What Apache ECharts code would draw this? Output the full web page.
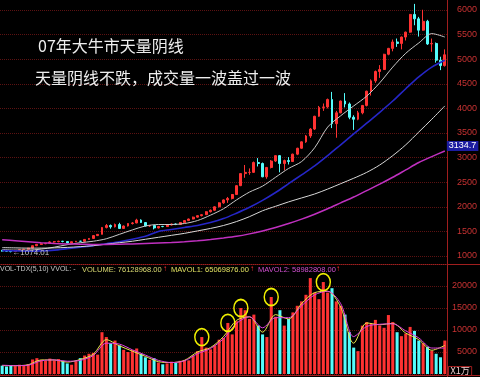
<!DOCTYPE html>
<html>
<head>
<meta charset="utf-8">
<script src="https://cdn.jsdelivr.net/npm/echarts@6/dist/echarts.min.js"></script>
<style>
html, body { margin: 0; padding: 0; background: #000; }
#main { width: 480px; height: 377px; }
</style>
</head>
<body>
<div id="main"></div>
<script>
// weekly bars, Shanghai composite, late 2005 - end 2007
var weeks = [
  '2005-11-18','2005-11-25','2005-12-02','2005-12-09','2005-12-16','2005-12-23','2005-12-30',
  '2006-01-06','2006-01-13','2006-01-20','2006-01-27','2006-02-10','2006-02-17','2006-02-24',
  '2006-03-03','2006-03-10','2006-03-17','2006-03-24','2006-03-31','2006-04-07','2006-04-14',
  '2006-04-21','2006-04-28','2006-05-12','2006-05-19','2006-05-26','2006-06-02','2006-06-09',
  '2006-06-16','2006-06-23','2006-06-30','2006-07-07','2006-07-14','2006-07-21','2006-07-28',
  '2006-08-04','2006-08-11','2006-08-18','2006-08-25','2006-09-01','2006-09-08','2006-09-15',
  '2006-09-22','2006-09-29','2006-10-13','2006-10-20','2006-10-27','2006-11-03','2006-11-10',
  '2006-11-17','2006-11-24','2006-12-01','2006-12-08','2006-12-15','2006-12-22','2006-12-29',
  '2007-01-05','2007-01-12','2007-01-19','2007-01-26','2007-02-02','2007-02-09','2007-02-16',
  '2007-02-23','2007-03-02','2007-03-09','2007-03-16','2007-03-23','2007-03-30','2007-04-06',
  '2007-04-13','2007-04-20','2007-04-27','2007-05-11','2007-05-18','2007-05-25','2007-06-01',
  '2007-06-08','2007-06-15','2007-06-22','2007-06-29','2007-07-06','2007-07-13','2007-07-20',
  '2007-07-27','2007-08-03','2007-08-10','2007-08-17','2007-08-24','2007-08-31','2007-09-07',
  '2007-09-14','2007-09-21','2007-09-28','2007-10-12','2007-10-19','2007-10-26','2007-11-02',
  '2007-11-09','2007-11-16','2007-11-23','2007-11-30','2007-12-07'
];
var open = [
  1110,1100,1098,1090,1115,1130,1138, 1161,1209,1236,1249,1258,1286,1290,
  1300,1295,1265,1290,1300,1299,1337, 1357,1415,1440,1580,1620,1593,1640,
  1560,1610,1660,1672,1730,1680,1610, 1620,1570,1600,1598,1630,1650,1640,
  1680,1720,1752,1790,1820,1840,1900, 1930,2000,2080,2140,2170,2250,2430,
  2675,2700,2700,2900,2880,2610,2800, 2930,3040,2880,2940,2920,3070,3190,
  3320,3440,3580,3840,4020,4030,4180, 3690,3910,4150,4090,3820,3780,3910,
  4060,4350,4560,4750,4790,5100,5220, 5350,5320,5450,5550,5910,5820,5590,
  5770,5310,5320,4980,4870
];
var close = [
  1100,1098,1090,1115,1130,1138,1161, 1209,1236,1249,1258,1286,1290,1300,
  1295,1265,1290,1300,1299,1337,1357, 1415,1440,1580,1620,1593,1640,1560,
  1610,1660,1672,1730,1680,1610,1620, 1570,1600,1598,1630,1650,1640,1680,
  1720,1752,1790,1820,1840,1900,1930, 2000,2080,2140,2170,2250,2430,2675,
  2700,2700,2900,2880,2610,2800,2930, 3040,2880,2940,2920,3070,3190,3320,
  3440,3580,3840,4020,4030,4180,3690, 3910,4150,4090,3820,3780,3910,4060,
  4350,4560,4750,4790,5100,5220,5350, 5320,5450,5550,5910,5820,5590,5770,
  5310,5320,4980,4870,5090
];
var low = [
  1090,1085,1074.01,1085,1108,1122,1130, 1158,1200,1225,1240,1250,1270,1280,
  1278,1256,1260,1282,1288,1295,1330, 1350,1405,1440,1560,1555,1580,1548,
  1550,1600,1640,1665,1670,1600,1590, 1541,1560,1585,1592,1620,1628,1635,
  1670,1712,1745,1780,1805,1835,1885, 1920,1990,2060,2080,2150,2240,2420,
  2590,2650,2690,2820,2600,2570,2780, 2910,2700,2740,2860,2910,3050,3180,
  3300,3400,3560,3830,3950,4000,3600, 3404,3900,4020,3780,3563,3760,3880,
  4040,4260,4520,4620,4780,5080,5160, 5250,5200,5380,5540,5690,5460,5580,
  5290,5150,4930,4778,4850
];
var high = [
  1125,1112,1102,1120,1140,1145,1165, 1212,1245,1260,1265,1300,1305,1310,
  1308,1300,1295,1306,1310,1340,1365, 1420,1445,1590,1650,1640,1660,1675,
  1620,1668,1690,1757,1745,1690,1630, 1625,1608,1612,1635,1660,1662,1690,
  1725,1760,1800,1830,1850,1910,1945, 2010,2090,2150,2200,2260,2440,2680,
  2850,2780,2920,2990,2900,2810,2950, 3049,3050,2960,3010,3080,3200,3330,
  3460,3600,3850,4050,4100,4200,4335, 3950,4160,4311,4120,3860,3950,4070,
  4360,4590,4770,4880,5110,5230,5400, 5420,5460,5560,5920,6124.04,5860,6005,
  5800,5420,5340,5050,5200
];
// volume, x1万
var volume = [
  1900,1700,2000,1800,2100,1900,2200, 3300,3600,3200,3000,3500,3100,3400,
  3000,2400,2100,2900,3600,4200,4600, 4800,4400,9500,8400,7000,7600,6500,
  5500,5000,5400,5800,4600,3800,3200, 3600,2600,2200,2400,2800,2500,3000,
  3200,3100,4200,5200,8400,6000,5600, 6500,7800,8200,11600,9000,12000,15000,
  14500,12500,13500,11000,9000,8400,17500, 13000,14500,11000,12500,14000,15500,16500,
  18000,21800,18500,17000,20900,18500,19500, 16500,15500,13500,9500,6000,5200,11000,
  11800,11500,12300,11000,10500,13400,11800, 9500,8600,9200,10700,9800,7600,7000,
  6200,5300,4600,3800,7600
];
// moving averages read every 3rd week
var ma60 = [1130,1120,1120,1140,1180,1230,1270,1300,1350,1440,1530,1610,1640,1640,1660,1720,1830,1960,
  2140,2300,2420,2600,2780,2920,3200,3620,3850,4050,4250,4520,4840,5120,5330,5520,5450];
var ma120 = [1110,1105,1100,1105,1120,1150,1180,1210,1250,1290,1340,1400,1500,1540,1580,1620,1680,1760,
  1870,1990,2130,2290,2470,2650,2830,3040,3260,3480,3700,3920,4150,4400,4640,4840,4980];
var ma250 = [1170,1165,1160,1160,1165,1175,1190,1210,1240,1270,1300,1340,1380,1420,1460,1510,1560,1620,
  1700,1800,1920,2010,2100,2180,2260,2360,2470,2580,2700,2850,3040,3260,3520,3780,4050];
var ma500 = [1330,1310,1290,1270,1255,1245,1240,1235,1235,1240,1245,1255,1265,1275,1290,1310,1335,1365,
  1400,1450,1510,1580,1660,1750,1850,1960,2080,2200,2330,2460,2600,2750,2900,3020,3134.7];
var mavol1 = [1900,1900,2100,3200,3200,2700,3300,4500,7800,6400,5200,4000,2800,2600,3100,5000,6000,8500,
  12200,13000,9500,13500,12500,16000,18500,18800,15200,7000,11600,11200,11500,9300,7800,5400,6500];
var mavol2 = [2000,1900,2000,3000,3200,2900,3100,4200,7000,6800,5500,4300,3100,2600,3000,4600,5800,8000,
  11500,13000,10500,12800,12800,15500,18000,18800,16000,8500,10800,11300,11400,9800,8200,5900,5900];
// weeks with a hand-drawn circle on the volume spike
var circled = [46, 52, 55, 62, 74];

var chart = echarts.init(document.getElementById('main'));

var candles = weeks.map(function (d, i) { return [open[i], close[i], low[i], high[i]]; });
function every3(arr) { return arr.map(function (v, k) { return [k * 3, v]; }); }
function maLine(name, arr, color, width, grid) {
  return {
    name: name, type: 'line', xAxisIndex: grid, yAxisIndex: grid,
    data: every3(arr), smooth: 0.3, symbol: 'none', silent: true,
    lineStyle: { color: color, width: width }
  };
}

var red = '#ff3232', cyan = '#54fcfc', axisRed = '#a01e1e', labelRed = '#c83232';
function hdr(text, fill, size) {
  return { text: text, fill: fill, fontSize: size, fontFamily: 'Liberation Sans' };
}
var cjk = { color: '#eeeeee', fontSize: 16, fontWeight: 'normal', fontFamily: 'Noto Sans CJK SC' };

var option = {
  backgroundColor: '#000',
  animation: false,
  title: [
    { text: '07年大牛市天量阴线', left: 33, top: 33, textStyle: cjk },
    { text: '天量阴线不跌，成交量一波盖过一波', left: 30, top: 65, textStyle: cjk }
  ],
  grid: [
    { left: 0, right: 32, top: 10, height: 246 },
    { left: 0, right: 32, top: 264, height: 110 }
  ],
  xAxis: [
    { type: 'category', gridIndex: 0, data: weeks, show: false },
    { type: 'category', gridIndex: 1, data: weeks, show: false }
  ],
  yAxis: [
    { gridIndex: 0, position: 'right', min: 1000, max: 6000, interval: 500,
      axisLine: { show: false }, axisTick: { show: false },
      axisLabel: { color: labelRed, fontSize: 9, fontFamily: 'Liberation Sans', align: 'right', margin: 30,
        formatter: function (v) { return String(v); } },
      splitLine: { lineStyle: { color: '#5c1212', type: 'dotted' } } },
    { gridIndex: 1, position: 'right', min: 0, max: 25000, interval: 5000,
      axisLine: { show: false }, axisTick: { show: false },
      axisLabel: { color: labelRed, fontSize: 9, fontFamily: 'Liberation Sans', align: 'right', margin: 30,
        formatter: function (v) { return (v > 0 && v < 25000) ? String(v) : ''; } },
      splitLine: { lineStyle: { color: '#5c1212', type: 'dotted' } } }
  ],
  series: [
    { name: 'K', type: 'candlestick', data: candles, barWidth: '55%', clip: false,
      itemStyle: { color: red, color0: cyan, borderColor: red, borderColor0: cyan, borderWidth: 1 },
      markPoint: {
        symbol: 'circle', symbolSize: 1, itemStyle: { color: 'rgba(0,0,0,0)' },
        label: { show: true, position: 'right', distance: 1, color: '#c8c8c8', fontSize: 8,
          fontFamily: 'Liberation Sans',
          formatter: function (p) { return '\u2190' + p.value.toFixed(2); } },
        data: [{ type: 'max', valueDim: 'highest' }, { type: 'min', valueDim: 'lowest' }]
      }
    },
    maLine('MA60', ma60, '#c8c8c8', 1, 0),
    maLine('MA120', ma120, '#2626c8', 1.6, 0),
    maLine('MA250', ma250, '#d8d8d8', 1, 0),
    Object.assign(maLine('MA500', ma500, '#c030c0', 1.5, 0), {
      endLabel: { show: true, distance: 2, offset: [0, -5], color: '#ffffff', backgroundColor: '#1c1ca0',
        padding: [1, 2, 0, 2], fontSize: 9, fontFamily: 'Liberation Sans',
        formatter: function (p) { return p.value[1].toFixed(1); } }
    }),
    { name: 'VOL', type: 'bar', xAxisIndex: 1, yAxisIndex: 1, data: volume, barWidth: '70%',
      itemStyle: { color: function (p) { return close[p.dataIndex] >= open[p.dataIndex] ? red : cyan; } },
      markPoint: {
        symbol: 'circle', symbolSize: [14, 17], label: { show: false },
        itemStyle: { color: 'rgba(0,0,0,0)', borderColor: '#f0f000', borderWidth: 1.6 },
        data: circled.map(function (i) { return { coord: [weeks[i], volume[i]] }; })
      }
    },
    maLine('MAVOL1', mavol1, '#e8e84a', 1, 1),
    maLine('MAVOL2', mavol2, '#e040e0', 1, 1)
  ],
  graphic: [
    { type: 'line', shape: { x1: 0, y1: 264.5, x2: 480, y2: 264.5 }, style: { stroke: axisRed, lineWidth: 1 } },
    { type: 'line', shape: { x1: 0, y1: 375.5, x2: 480, y2: 375.5 }, style: { stroke: axisRed, lineWidth: 1 } },
    { type: 'line', shape: { x1: 447.5, y1: 0, x2: 447.5, y2: 377 }, style: { stroke: axisRed, lineWidth: 1 } },
    { type: 'text', left: 0, top: 266, style: hdr('VOL-TDX(5,10) VVOL: -', '#c8c8c8', 7) },
    { type: 'text', left: 82, top: 266, style: hdr('VOLUME: 76128968.00', '#d8d870', 7.5) },
    { type: 'text', left: 163, top: 265, style: hdr('\u2191', red, 8) },
    { type: 'text', left: 171, top: 266, style: hdr('MAVOL1: 65069876.00', '#e0e060', 7.5) },
    { type: 'text', left: 250, top: 265, style: hdr('\u2191', red, 8) },
    { type: 'text', left: 258, top: 266, style: hdr('MAVOL2: 58982808.00', '#d050d0', 7.5) },
    { type: 'text', left: 336, top: 265, style: hdr('\u2191', red, 8) },
    { type: 'text', left: 448, top: 366, style: { text: 'X1万', fill: '#f0d0d0', fontSize: 9,
      fontFamily: 'Noto Sans CJK SC', borderColor: axisRed, borderWidth: 1, padding: [0, 2, 0, 2] } }
  ]
};

chart.setOption(option);
</script>
</body>
</html>
